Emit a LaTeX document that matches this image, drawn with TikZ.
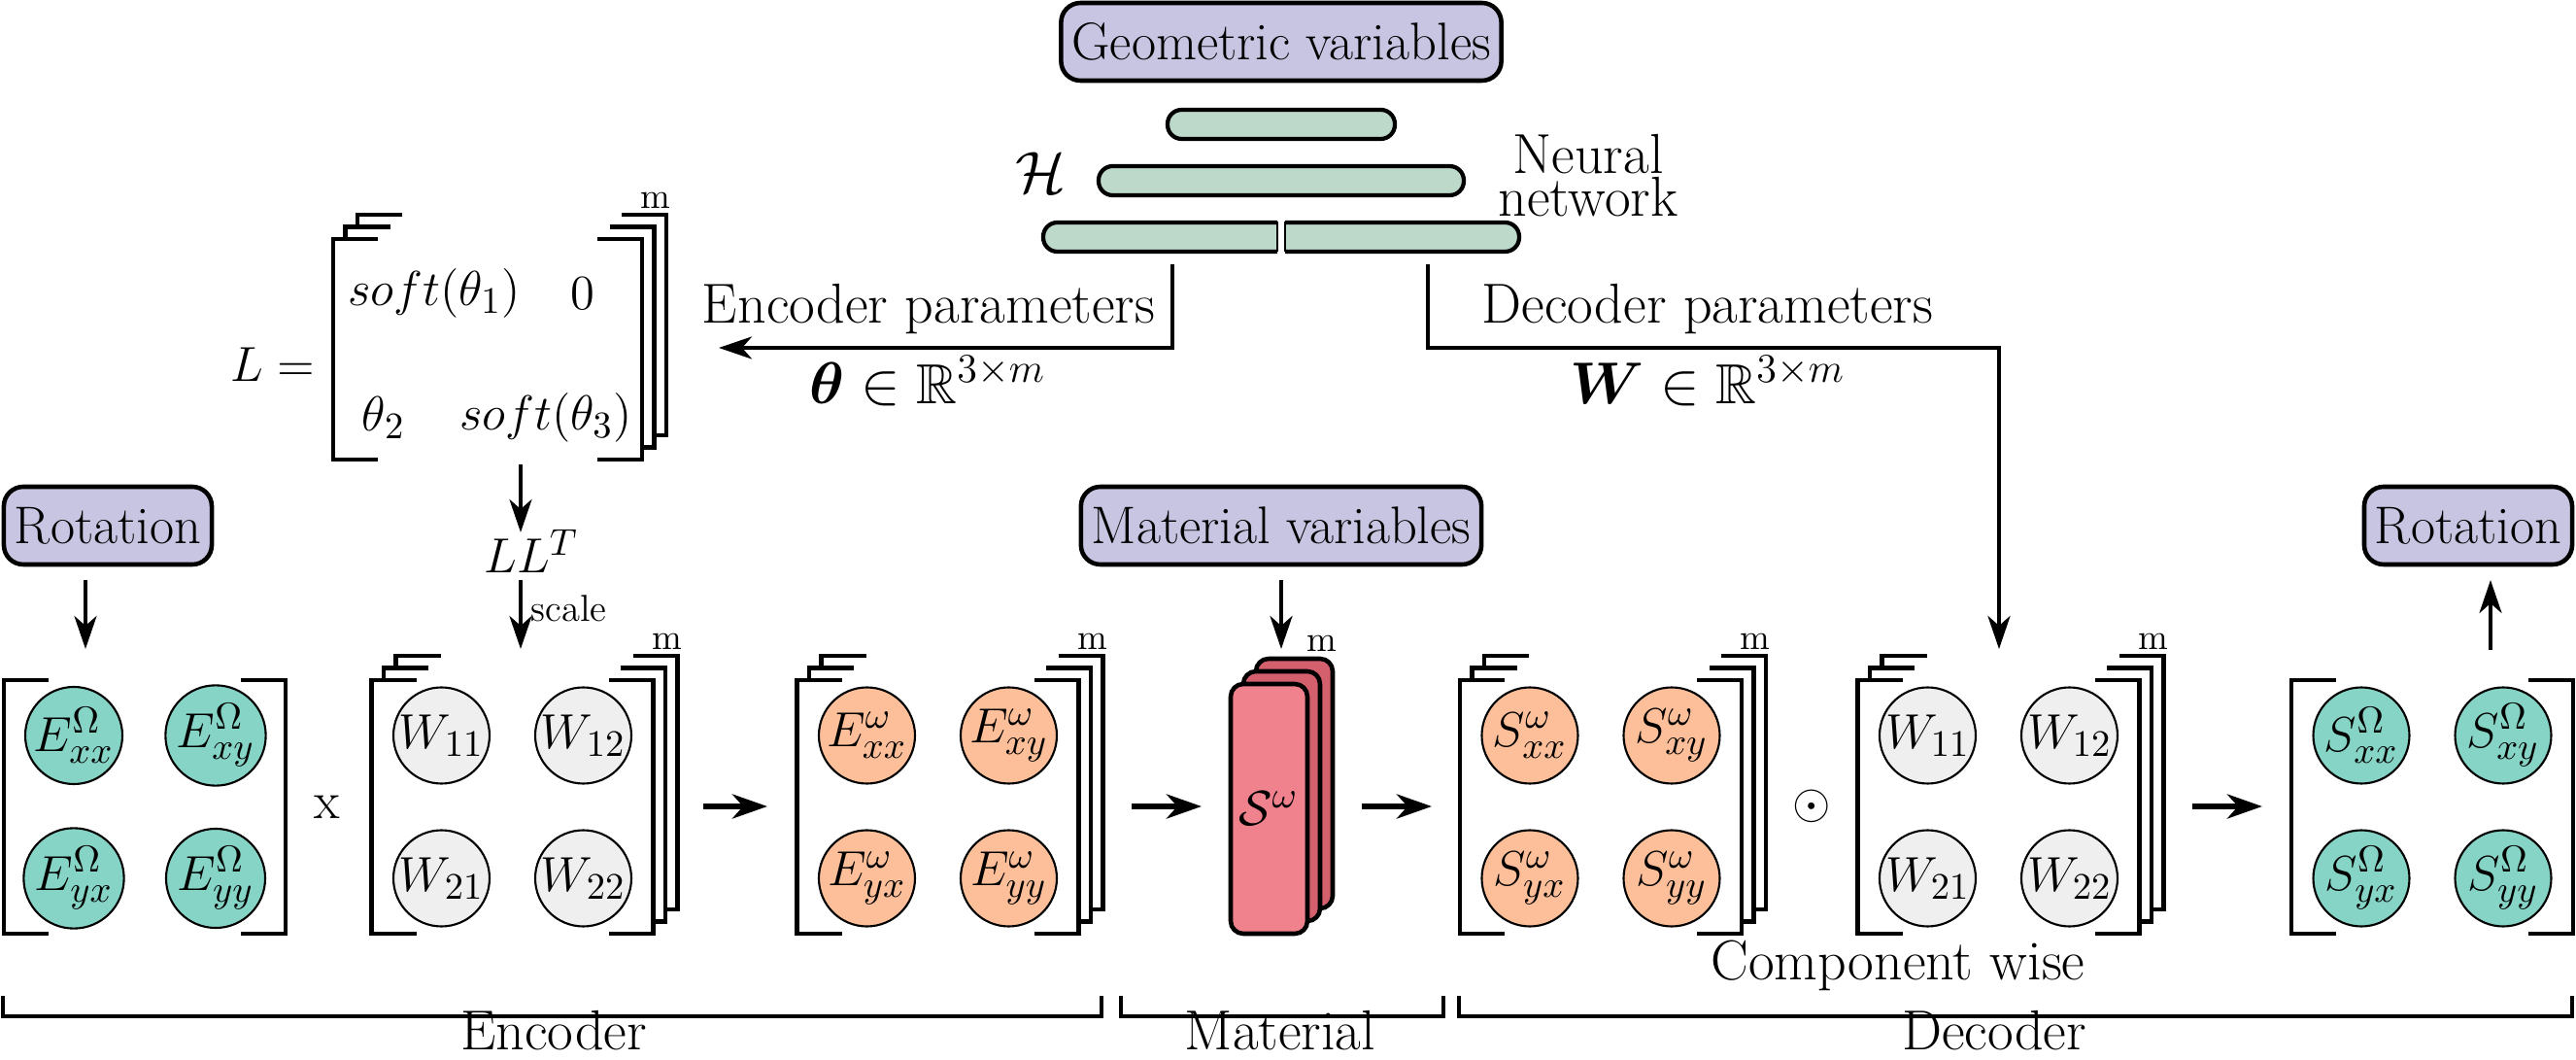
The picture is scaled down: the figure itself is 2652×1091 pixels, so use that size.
\documentclass[tikz,border=0pt]{standalone}
\usepackage{amsmath,amssymb}
\usetikzlibrary{arrows.meta,calc}
\definecolor{lav}{RGB}{199,197,226}
\definecolor{nng}{RGB}{188,217,201}
\definecolor{tealc}{RGB}{134,212,198}
\definecolor{orc}{RGB}{253,191,153}
\definecolor{grc}{RGB}{239,239,239}
\definecolor{redf}{RGB}{240,130,142}
\definecolor{redb}{RGB}{212,96,110}
% bracket pair: L T R B (T above B on the page)
\newcommand{\bpair}[4]{%
  \fill[white] (#1,#2) rectangle (#3,#4);
  \draw[brkline] (#1+46,#2) -- (#1,#2) -- (#1,#4) -- (#1+46,#4);
  \draw[brkline] (#3-46,#2) -- (#3,#2) -- (#3,#4) -- (#3-46,#4);}
\newcommand{\stackgen}[5]{%
  \foreach \k in {2,1,0}{\bpair{#1+12.5*\k}{#2-12.5*\k}{#3+12.5*\k}{#4-12.5*\k}}
  \node[mlab] (#5) at (#3+25-11,#2-25-15) {m};}
\newcommand{\stackmat}[3]{\stackgen{#1-145}{#2-130.5}{#1+145}{#2+130.5}{#3}}
\newcommand{\plainmat}[2]{\bpair{#1-145}{#2-130.5}{#1+145}{#2+130.5}}
\begin{document}
\begin{tikzpicture}[x=0.1mm,y=-0.1mm,
  font=\fontsize{15.5}{18.6}\selectfont,
  lbl/.style={font=\fontsize{16.5}{19.8}\selectfont},
  lbox/.style={draw,line width=1.3pt,fill=lav,rounded corners=2mm,minimum height=8mm,inner xsep=1.1mm,inner ysep=0pt},
  nnbar/.style={draw,line width=1.2pt,fill=nng,rounded corners=1.45mm,minimum height=3mm,inner sep=0pt},
  circ/.style={circle,draw,line width=0.6pt,minimum size=9.9mm,inner sep=0pt},
  brkline/.style={line width=1.3pt,line join=miter},
  conn/.style={line width=1.1pt,-{Stealth[length=3.4mm,width=2.3mm,inset=1mm]}},
  marr/.style={line width=1.6pt,-{Stealth[length=3.6mm,width=2.5mm,inset=1.1mm]}},
  mlab/.style={font=\fontsize{10.5}{12}\selectfont,inner sep=0pt},
  brace/.style={line width=1.3pt,line join=miter},
  redbox/.style={draw,line width=1.3pt,rounded corners=1.3mm},
]
\useasboundingbox (0,0) rectangle (2652,1091);

% ---------- top: neural network ----------
\node[lbox] (geo) at (1319,43) {Geometric variables};
\node[nnbar,minimum width=23.4mm] (nn1) at (1319,128) {};
\node[nnbar,minimum width=37.6mm] (nn2) at (1319,186) {};
\node[nnbar,minimum width=49mm] (nn3) at (1319,244) {};
\fill[white] (1315,222) rectangle (1323,266);
\draw[line width=0.8pt] (1315,228.5) -- (1315,259.5) (1323,228.5) -- (1323,259.5);
\node[lbl] (calH) at (1071,178) {$\mathcal{H}$};
\node[align=center,font=\fontsize{16.5}{11.4}\selectfont] (nnlab) at (1635,181) {Neural\\network};

% encoder / decoder parameter connectors
\coordinate (encTop) at (1207,272);
\coordinate (encTip) at (740,358);
\draw[conn] (encTop) |- (encTip);
\node[lbl] (encp) at (956,318) {Encoder parameters};
\node[lbl] (theta) at (955,392) {$\boldsymbol{\theta}\in\mathbb{R}^{3\times m}$};
\coordinate (decTop) at (1470,272);
\coordinate (decA) at (1470,358);
\coordinate (decTip) at (2058,668);
\draw[conn] (decTop) -- (decA) -| (decTip);
\node[lbl] (decp) at (1758,318) {Decoder parameters};
\node[lbl] (wpar) at (1758,392) {$\boldsymbol{W}\in\mathbb{R}^{3\times m}$};

% ---------- L matrix ----------
\stackgen{343}{246}{661}{473}{Lm}
\node[anchor=east] (Leq) at (336,375) {$L =$};
\node (l11) at (447,302) {$soft(\theta_1)$};
\node (l12) at (600,302) {$0$};
\node (l21) at (395,430) {$\theta_2$};
\node (l22) at (562,430) {$soft(\theta_3)$};
\coordinate (Lbot) at (536,478);
\coordinate (LLtip) at (536,548);
\draw[conn] (Lbot) -- (LLtip);
\node[anchor=base] (LLT) at (547,590) {$LL^T$};
\coordinate (scA) at (536,597);
\coordinate (scB) at (536,668);
\draw[conn] (scA) -- (scB);
\node[anchor=base west,inner sep=0pt,font=\fontsize{11}{13}\selectfont] (scale) at (546,640) {scale};

% ---------- boxes on the main row ----------
\node[lbox] (rotL) at (111,541) {Rotation};
\node[lbox] (matv) at (1319,541) {Material variables};
\node[lbox] (rotR) at (2541,541) {Rotation};
\coordinate (rlA) at (88,597);
\coordinate (rlB) at (88,668);
\draw[conn] (rlA) -- (rlB);
\coordinate (mvA) at (1319,597);
\coordinate (mvB) at (1319,668);
\draw[conn] (mvA) -- (mvB);
\coordinate (rrA) at (2564,669);
\coordinate (rrB) at (2564,597);
\draw[conn] (rrA) -- (rrB);

% ---------- matrices ----------
\plainmat{149}{830.5}
\stackmat{527.5}{830.5}{W1m}
\stackmat{965.5}{830.5}{Ewm}
\stackmat{1648}{830.5}{Swm}
\stackmat{2057.5}{830.5}{W2m}
\plainmat{2504}{830.5}

% E Omega
\node[circ,fill=tealc] (eO11) at (76,757) {$E^{\Omega}_{xx}$};
\node[circ,fill=tealc] (eO12) at (222,757) {$E^{\Omega}_{xy}$};
\node[circ,fill=tealc] (eO21) at (76,904) {$E^{\Omega}_{yx}$};
\node[circ,fill=tealc] (eO22) at (222,904) {$E^{\Omega}_{yy}$};
\node (times) at (337,831) {x};
% W first
\node[circ,fill=grc] (wa11) at (454.5,757) {$W_{11}$};
\node[circ,fill=grc] (wa12) at (600.5,757) {$W_{12}$};
\node[circ,fill=grc] (wa21) at (454.5,904) {$W_{21}$};
\node[circ,fill=grc] (wa22) at (600.5,904) {$W_{22}$};
% E omega
\node[circ,fill=orc] (ew11) at (892.5,757) {$E^{\omega}_{xx}$};
\node[circ,fill=orc] (ew12) at (1038.5,757) {$E^{\omega}_{xy}$};
\node[circ,fill=orc] (ew21) at (892.5,904) {$E^{\omega}_{yx}$};
\node[circ,fill=orc] (ew22) at (1038.5,904) {$E^{\omega}_{yy}$};
% S stack
\foreach \k/\c in {2/redb,1/redb,0/redf}
  \draw[redbox,fill=\c] (1267+13*\k,704-13*\k) rectangle (1346+13*\k,961-13*\k);
\node (Sw) at (1306,832) {$\mathcal{S}^{\omega}$};
\node[mlab] (Sstm) at (1361,662) {m};
% S omega
\node[circ,fill=orc] (sw11) at (1575,757) {$S^{\omega}_{xx}$};
\node[circ,fill=orc] (sw12) at (1721,757) {$S^{\omega}_{xy}$};
\node[circ,fill=orc] (sw21) at (1575,904) {$S^{\omega}_{yx}$};
\node[circ,fill=orc] (sw22) at (1721,904) {$S^{\omega}_{yy}$};
\node (odot) at (1865,830) {$\odot$};
% W second
\node[circ,fill=grc] (wb11) at (1984.5,757) {$W_{11}$};
\node[circ,fill=grc] (wb12) at (2130.5,757) {$W_{12}$};
\node[circ,fill=grc] (wb21) at (1984.5,904) {$W_{21}$};
\node[circ,fill=grc] (wb22) at (2130.5,904) {$W_{22}$};
% S Omega
\node[circ,fill=tealc] (sO11) at (2431,757) {$S^{\Omega}_{xx}$};
\node[circ,fill=tealc] (sO12) at (2577,757) {$S^{\Omega}_{xy}$};
\node[circ,fill=tealc] (sO21) at (2431,904) {$S^{\Omega}_{yx}$};
\node[circ,fill=tealc] (sO22) at (2577,904) {$S^{\Omega}_{yy}$};

% main-row arrows
\coordinate (a1s) at (724,830);  \coordinate (a1e) at (790,830);
\coordinate (a2s) at (1165,830); \coordinate (a2e) at (1237,830);
\coordinate (a3s) at (1402,830); \coordinate (a3e) at (1474,830);
\coordinate (a4s) at (2257,830); \coordinate (a4e) at (2329,830);
\draw[marr] (a1s) -- (a1e);
\draw[marr] (a2s) -- (a2e);
\draw[marr] (a3s) -- (a3e);
\draw[marr] (a4s) -- (a4e);

\node[lbl] (cw) at (1954,994) {Component wise};

% ---------- bottom groupings ----------
\draw[brace] (3,1025) -- (3,1046) -- (1134,1046) -- (1134,1025);
\draw[brace] (1154,1025) -- (1154,1046) -- (1486,1046) -- (1486,1025);
\draw[brace] (1502,1025) -- (1502,1046) -- (2648,1046) -- (2648,1025);
\node[lbl,anchor=base,inner sep=0pt] (encL) at (570,1081) {Encoder};
\node[lbl,anchor=base,inner sep=0pt] (matL) at (1318,1081) {Material};
\node[lbl,anchor=base,inner sep=0pt] (decL) at (2053,1081) {Decoder};
\end{tikzpicture}
\end{document}
